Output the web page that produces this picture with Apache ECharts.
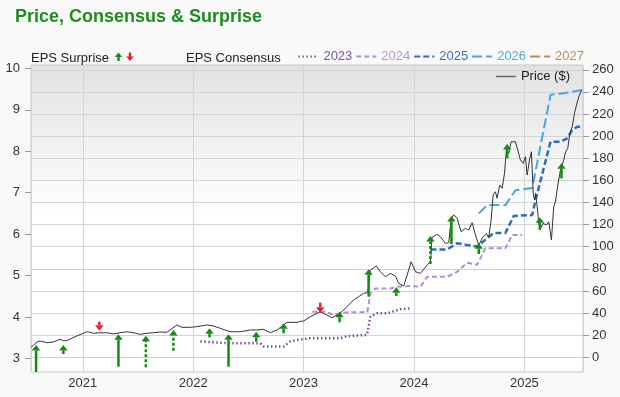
<!DOCTYPE html>
<html><head><meta charset="utf-8">
<script src="https://cdn.jsdelivr.net/npm/echarts@6/dist/echarts.min.js"></script>
<style>html,body{margin:0;padding:0;background:#f9f9f9}#c{width:620px;height:397px}</style>
</head><body><div id="c"></div>
<script>
// ---- data (x values are decimal years) ----
const yearTicks = [2021, 2022, 2023, 2024, 2025];
const epsTicks = [3, 4, 5, 6, 7, 8, 9, 10];
const priceTicks = [0, 20, 40, 60, 80, 100, 120, 140, 160, 180, 200, 220, 240, 260];

const priceX = [2020.531,2020.583,2020.613,2020.674,2020.733,2020.794,2020.824,2020.855,2020.885,2020.946,
  2021.005,2021.036,2021.066,2021.096,2021.157,2021.218,2021.277,2021.338,2021.399,2021.459,2021.519,2021.580,2021.640,2021.701,2021.762,2021.852,2021.898,2021.973,
  2022.034,2022.124,2022.184,2022.245,2022.335,2022.426,2022.517,2022.577,2022.637,2022.698,2022.759,2022.819,2022.849,2022.940,2022.970,
  2023.000,2023.061,2023.151,2023.212,2023.257,2023.303,2023.348,2023.408,2023.453,2023.499,2023.544,2023.580,2023.605,2023.659,2023.695,2023.741,2023.786,2023.831,2023.861,2023.907,2023.952,2023.974,
  2024.013,2024.058,2024.119,2024.149,2024.164,2024.209,2024.239,2024.285,2024.315,2024.336,2024.360,2024.391,2024.427,2024.466,2024.496,2024.527,2024.557,2024.587,2024.626,2024.656,2024.677,2024.699,2024.717,2024.738,2024.753,2024.777,2024.799,2024.820,2024.838,2024.858,2024.880,2024.919,2024.940,2024.964,2024.989,
  2025.010,2025.025,2025.049,2025.064,2025.080,2025.092,2025.101,2025.116,2025.130,2025.146,2025.170,2025.200,2025.221,2025.245,2025.266,2025.282,2025.303,2025.327,2025.357,2025.373,2025.393,2025.412,2025.433,2025.454,2025.472,2025.493,2025.518];
const priceY = [9.0,13.6,14.7,13.2,13.8,16.3,15.0,15.0,16.5,19.3,
  21.7,23.1,22.6,21.7,22.2,22.2,21.1,22.2,23.1,22.2,20.8,21.7,22.2,22.9,22.6,29.2,27.1,27.1,
  27.7,29.2,28.3,26.2,23.1,23.1,24.7,24.7,25.3,22.2,24.7,29.2,31.6,31.6,32.5,
  32.8,36.7,41.2,38.2,35.8,38.2,41.2,47.3,51.8,54.8,57.9,58.4,78.9,82.5,77.4,72.9,75.9,73.5,66.9,64.5,78.9,86.4,
  77.4,75.9,83.5,86.4,108.5,111.2,109.0,103.1,103.6,124.8,128.7,125.7,113.6,116.6,115.1,121.7,110.6,101.5,109.0,112.1,108.5,124.1,146.7,149.7,143.8,155.8,152.8,166.4,188.1,184.4,194.9,194.9,187.4,178.4,175.4,
  181.4,164.8,179.9,185.9,148.3,142.2,148.3,136.2,121.2,116.6,121.2,119.6,122.6,106.1,136.2,140.7,155.8,169.4,178.4,185.9,189.0,202.5,208.5,220.6,228.1,235.6,241.7];

const eps2023X = [2022.065,2022.306,2022.607,2022.637,2022.819,2022.879,2022.970,2023.061,2023.333,2023.393,2023.575,2023.605,2023.665,2023.756,2023.877,2023.967];
const eps2023Y = [3.41,3.37,3.37,3.29,3.29,3.41,3.46,3.49,3.49,3.54,3.57,4.01,4.09,4.09,4.19,4.21];
const eps2024X = [2023.079,2023.197,2023.270,2023.379,2023.578,2023.605,2023.650,2023.786,2023.847,2023.967,2024.058,2024.119,2024.300,2024.391,2024.481,2024.572,2024.647,2024.829,2024.889,2024.980];
const eps2024Y = [4.13,4.13,4.05,4.11,4.12,4.57,4.69,4.69,4.73,4.75,4.73,4.97,4.97,5.09,5.31,5.26,5.66,5.66,5.98,5.98];
const eps2025X = [2024.149,2024.300,2024.391,2024.481,2024.572,2024.663,2024.723,2024.829,2024.904,2025.071,2025.101,2025.237,2025.327,2025.388,2025.433,2025.479,2025.524];
const eps2025Y = [5.63,5.63,5.78,5.74,5.70,5.90,6.03,6.03,6.44,6.46,6.82,8.23,8.23,8.31,8.51,8.59,8.59];
const eps2026X = [2024.587,2024.663,2024.829,2024.919,2025.071,2025.237,2025.357,2025.524];
const eps2026Y = [6.50,6.70,6.70,7.06,7.11,9.36,9.40,9.48];
const eps2027X = [];
const eps2027Y = [];

const surpriseX = [2020.577,2020.824,2021.150,2021.323,2021.571,2021.821,2022.148,2022.320,2022.571,2022.819,2023.151,2023.326,2023.589,2023.840,2024.149,2024.339,2024.587,2024.844,2025.140,2025.336];
const surpriseTip = [11.1,11.1,24.1,20.8,19.5,24.7,26.2,20.8,23.1,30.7,40.3,41.2,79.6,63.3,109.7,127.8,103.1,192.9,126.6,175.4];
const surpriseBase = [-13.3,3.0,32.2,-8.5,-9.0,6.0,18.1,-8.5,14.1,21.7,49.4,31.6,54.8,55.4,84.4,102.4,93.4,179.9,115.1,161.8];
const surpriseDir = [1,1,-1,1,1,1,1,1,1,1,-1,1,1,1,1,1,1,1,1,1];
const surpriseDashed = [0,0,0,0,1,1,0,0,0,0,0,0,0,0,1,0,0,0,0,0];

// ---- styles ----
const FONT = '"Liberation Sans", Arial, sans-serif';
const GREEN = '#138a13', RED = '#e8202a';
const consensus = [
  {name:'2023', x:eps2023X, y:eps2023Y, color:'#7a4a9f', text:'#7b57a0', dash:[1.5,2.5], width:2.5},
  {name:'2024', x:eps2024X, y:eps2024Y, color:'#b48bd6', text:'#b597d0', dash:[5,3], width:2},
  {name:'2025', x:eps2025X, y:eps2025Y, color:'#2c6cbf', text:'#3a70b5', dash:[6,3], width:2.5},
  {name:'2026', x:eps2026X, y:eps2026Y, color:'#45a7db', text:'#55a9d5', dash:[10,4], width:2},
  {name:'2027', x:eps2027X, y:eps2027Y, color:'#b8914a', text:'#b8914f', dash:[10,4], width:2}
];
const zip = (a, b) => a.map((v, i) => [v, b[i]]);

function renderArrow(params, api) {
  const x = api.value(0), tip = api.value(1), base = api.value(2), dashed = api.value(3), dir = api.value(4);
  const pT = api.coord([x, tip]), pB = api.coord([x, base]);
  const color = dir > 0 ? GREEN : RED;
  const hw = 4.2, hh = 5.5;
  const hy = pT[1] + (dir > 0 ? hh : -hh);
  return {type:'group', children:[
    {type:'line', shape:{x1:pB[0], y1:pB[1], x2:pT[0], y2:hy},
      style:{stroke:color, lineWidth:2.5, lineDash: dashed ? [3,2] : null}},
    {type:'polygon', shape:{points:[[pT[0], pT[1]], [pT[0]-hw, hy], [pT[0]+hw, hy]]}, style:{fill:color}}
  ]};
}

const chart = echarts.init(document.getElementById('c'), null, {renderer:'canvas'});
const option = {
  animation:false,
  backgroundColor:'#f9f9f9',
  textStyle:{fontFamily:FONT},
  title:{text:'Price, Consensus & Surprise', left:15, top:8, padding:0,
    textStyle:{fontFamily:FONT, fontSize:18, fontWeight:'bold', color:'#1e8c1e'}},
  grid:{left:31, right:37, top:65, bottom:25, show:true, borderColor:'#c6c6c6', borderWidth:1,
    backgroundColor:{type:'linear', x:0, y:0, x2:0, y2:1, colorStops:[{offset:0, color:'#e2e2e2'},{offset:0.5, color:'#ffffff'},{offset:1, color:'#ffffff'}]}},
  legend:[
    {data: consensus.map(c => ({name:c.name, textStyle:{color:c.text}})), right:31, top:45, itemWidth:20, itemHeight:14, itemGap:3,
      itemStyle:{opacity:0, color:'transparent', borderWidth:0},
      selectedMode:false, textStyle:{fontFamily:FONT, fontSize:13}},
    {data:['Price ($)'], right:45, top:65, itemWidth:20, itemHeight:14, selectedMode:false,
      itemStyle:{opacity:0, color:'transparent', borderWidth:0},
      lineStyle:{color:'#666', width:1.5},
      textStyle:{fontFamily:FONT, fontSize:13, color:'#222'}}
  ],
  graphic:[
    {type:'text', left:31, top:51.5, style:{text:'EPS Surprise', font:'13px ' + FONT, fill:'#222'}},
    {type:'polygon', shape:{points:[[118.5,52.5],[114.8,57],[117.3,57],[117.3,61],[119.7,61],[119.7,57],[122.2,57]]}, style:{fill:GREEN}},
    {type:'polygon', shape:{points:[[130,61],[126.3,56.5],[128.8,56.5],[128.8,52.5],[131.2,52.5],[131.2,56.5],[133.7,56.5]]}, style:{fill:RED}},
    {type:'text', left:186, top:51.5, style:{text:'EPS Consensus', font:'13px ' + FONT, fill:'#222'}}
  ],
  xAxis:{type:'value', min:2020.531, max:2025.531, splitNumber:5,
    axisLine:{show:false}, axisTick:{show:false},
    splitLine:{show:true, lineStyle:{color:'#d4d4d4', width:1}},
    axisLabel:{customValues:yearTicks, formatter:v => String(Math.round(v)), fontSize:13, color:'#333', margin:5, fontFamily:FONT}},
  yAxis:[
    {type:'value', position:'left', min:2.674, max:10.08, splitNumber:7,
      axisLine:{show:false}, splitLine:{show:false},
      axisTick:{show:true, customValues:epsTicks, length:6, lineStyle:{color:'#999'}},
      axisLabel:{customValues:epsTicks, fontSize:13, color:'#333', margin:11, fontFamily:FONT}},
    {type:'value', position:'right', min:-13.3, max:264.3, splitNumber:14,
      axisLine:{show:false},
      splitLine:{show:true, lineStyle:{color:'#d4d4d4', width:1}},
      axisTick:{show:true, customValues:priceTicks, length:6, lineStyle:{color:'#999'}},
      axisLabel:{customValues:priceTicks, fontSize:13, color:'#333', margin:9, fontFamily:FONT}}
  ],
  series:[
    ...consensus.map(c => ({name:c.name, type:'line', xAxisIndex:0, yAxisIndex:0, data:zip(c.x, c.y),
      symbol:'none', showSymbol:false, itemStyle:{color:c.color},
      lineStyle:{color:c.color, width:c.width, type:c.dash}, z:2})),
    {name:'Price ($)', type:'line', xAxisIndex:0, yAxisIndex:1, data:zip(priceX, priceY),
      symbol:'none', showSymbol:false, itemStyle:{color:'#555'}, lineStyle:{color:'#333', width:1}, z:3},
    {name:'EPS Surprise', type:'custom', xAxisIndex:0, yAxisIndex:1, clip:true, z:5,
      data: surpriseX.map((x, i) => [x, surpriseTip[i], surpriseBase[i], surpriseDashed[i], surpriseDir[i]]),
      encode:{x:0, y:1}, renderItem:renderArrow}
  ]
};
chart.setOption(option);
</script></body></html>
